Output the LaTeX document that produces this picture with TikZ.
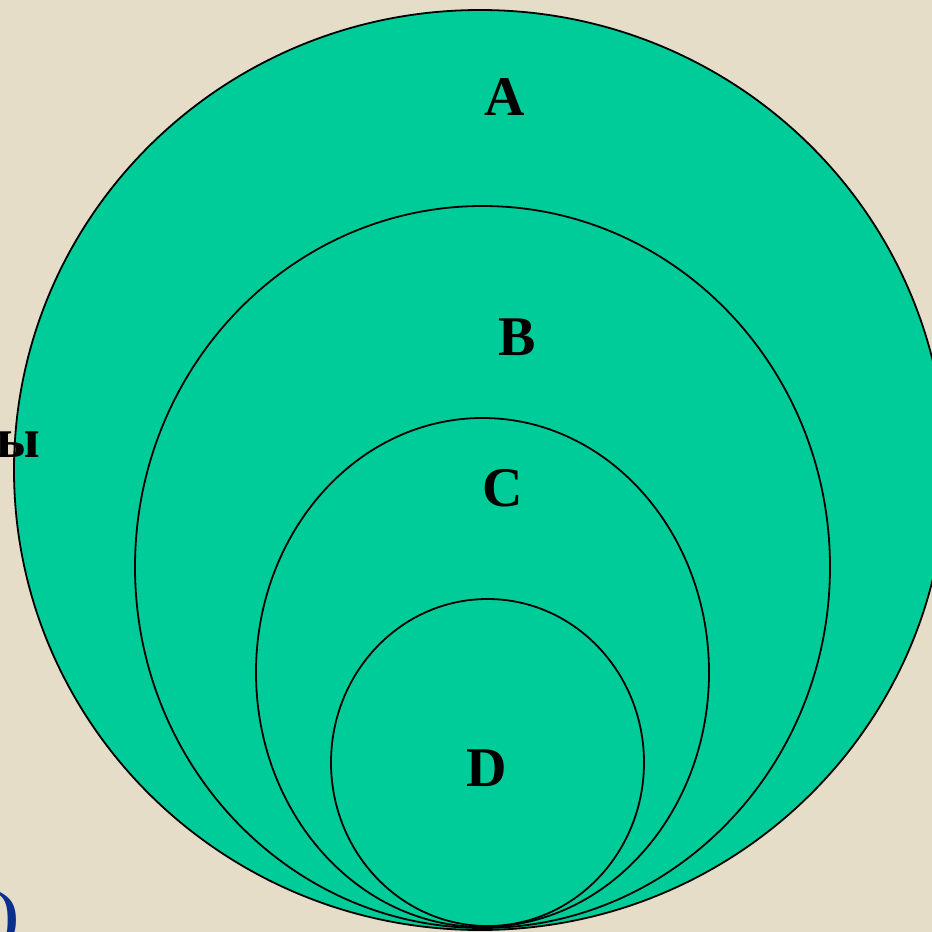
\documentclass[tikz,border=0pt]{standalone}
\usepackage{fontspec}
\setmainfont{Liberation Serif}
\usetikzlibrary{shapes.geometric}
\definecolor{bg}{HTML}{E6DDC8}
\definecolor{teal}{HTML}{00CC99}
\definecolor{navy}{HTML}{0A2F8C}
\tikzset{
  set/.style={ellipse, draw=black, line width=1.8pt, fill=teal, inner sep=0pt},
  lbl/.style={font=\fontsize{56}{60}\selectfont\bfseries, text=black, inner sep=0pt}
}
\begin{document}
\begin{tikzpicture}[x=1pt,y=-1pt]
\useasboundingbox (0,0) rectangle (932,932);
\clip (0,0) rectangle (932,932);
\fill[bg] (0,0) rectangle (932,932);
\node[set, minimum width=932pt, minimum height=920pt] (A) at (480,470) {};
\node[set, minimum width=695pt, minimum height=722pt] (B) at (482.5,567) {};
\node[set, minimum width=453pt, minimum height=509pt] (C) at (482.5,672.5) {};
\node[set, minimum width=313pt, minimum height=327pt] (D) at (487.5,762.5) {};
\node[lbl] (la) at (505,97) {A};
\node[lbl] (lb) at (517,337) {B};
\node[lbl] (lc) at (503,488) {C};
\node[lbl] (ld) at (487,768) {D};
\node[lbl, anchor=base east] (ly) at (40,457) {ы};
\node[lbl, text=navy, font=\fontsize{62}{66}\selectfont\bfseries, anchor=base east] (paren) at (19,935) {)};
\end{tikzpicture}
\end{document}
